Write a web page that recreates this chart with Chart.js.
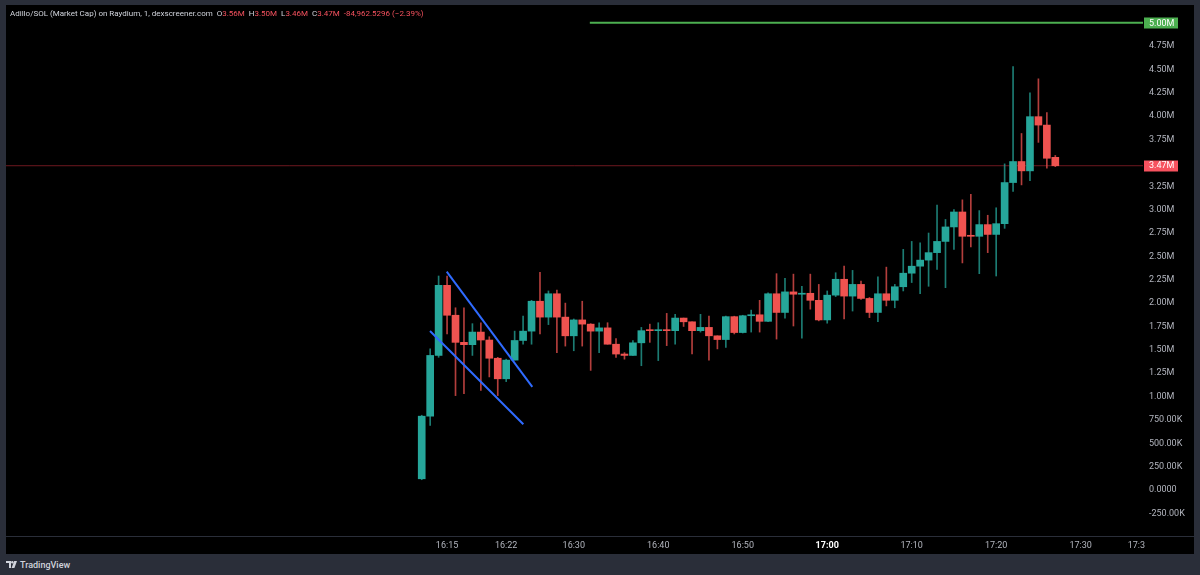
<!DOCTYPE html>
<html>
<head>
<meta charset="utf-8">
<script src="https://cdn.jsdelivr.net/npm/chart.js@4.4.1/dist/chart.umd.min.js"></script>
<style>
  html, body { margin: 0; padding: 0; width: 1200px; height: 575px; overflow: hidden; background: #2a2e39; font-family: Roboto, sans-serif; }
  #panel { position: absolute; left: 6px; top: 5px; width: 1188px; height: 549px; background: #000; }
  #header { position: absolute; left: 10px; top: 9px; font-size: 8px; line-height: 10px; color: #d1d4dc; white-space: pre; }
  #header .r { color: #f7525f; }
  #footer { position: absolute; left: 6px; top: 559px; height: 12px; display: flex; align-items: center; color: #d1d4dc; font-size: 9px; font-weight: 500; }
  #footer svg { margin-right: 3px; }
</style>
</head>
<body>
<div id="panel"><canvas id="chart" width="1188" height="549"></canvas></div>
<div id="header">Adillo/SOL (Market Cap) on Raydium, 1, dexscreener.com  O<span class="r">3.56M</span>  H<span class="r">3.50M</span>  L<span class="r">3.46M</span>  C<span class="r">3.47M</span>  <span class="r">-84,962.5296 (−2.39%)</span></div>
<div id="footer">
  <svg width="11" height="8" viewBox="0 0 11 8"><path d="M0 0h5v7H3V2H0z" fill="#d1d4dc"/><circle cx="6.3" cy="1.3" r="1.2" fill="#d1d4dc"/><path d="M8.2 0H11L8.4 7H5.6z" fill="#d1d4dc"/></svg>
  <span>TradingView</span>
</div>
<script>
// one-minute candles from 16:12 to 17:27, market cap in millions
const openM  = [0.12, 0.79, 1.44, 2.19, 1.87, 1.58, 1.555, 1.69, 1.605, 1.41, 1.19, 1.39, 1.60, 1.70, 2.02, 1.85, 2.10, 1.85, 1.65, 1.82,
                1.775, 1.70, 1.735, 1.56, 1.455, 1.44, 1.575, 1.715, 1.705, 1.715, 1.705, 1.84, 1.80, 1.705, 1.74, 1.65, 1.61, 1.855, 1.685, 1.865,
                1.875, 1.805, 2.10, 1.90, 2.12, 2.095, 2.105, 2.03, 1.82, 2.085, 2.255, 2.075, 2.20, 2.05, 1.90, 2.10, 2.03, 2.175, 2.32, 2.395,
                2.46, 2.54, 2.66, 2.815, 2.975, 2.725, 2.715, 2.84, 2.735, 2.85, 3.29, 3.515, 3.415, 3.995, 3.905, 3.56];
const highM  = [0.80, 1.51, 2.29, 2.29, 1.95, 1.95, 1.78, 1.79, 1.64, 1.42, 1.40, 1.70, 1.86, 2.03, 2.33, 2.13, 2.14, 2.00, 1.83, 2.02,
                1.78, 1.79, 1.79, 1.62, 1.47, 1.60, 1.74, 1.775, 1.79, 1.89, 1.88, 1.84, 1.80, 1.88, 1.86, 1.65, 1.86, 1.86, 1.87, 1.925,
                2.03, 2.11, 2.315, 2.265, 2.31, 2.18, 2.31, 2.20, 2.13, 2.325, 2.395, 2.35, 2.235, 2.06, 2.28, 2.385, 2.20, 2.575, 2.66, 2.645,
                2.75, 3.05, 2.895, 3.00, 3.105, 3.165, 2.99, 2.94, 3.02, 3.49, 4.53, 3.815, 4.25, 4.40, 4.04, 3.58];
const lowM   = [0.11, 0.69, 1.42, 1.67, 1.01, 1.03, 1.44, 1.065, 1.21, 1.01, 1.16, 1.39, 1.56, 1.56, 1.67, 1.77, 1.47, 1.54, 1.49, 1.54,
                1.28, 1.47, 1.56, 1.42, 1.40, 1.44, 1.33, 1.58, 1.385, 1.545, 1.56, 1.75, 1.455, 1.69, 1.39, 1.51, 1.525, 1.67, 1.68, 1.69,
                1.69, 1.80, 1.615, 1.84, 1.755, 1.625, 1.935, 1.81, 1.785, 2.07, 1.83, 1.915, 2.04, 1.845, 1.80, 1.97, 1.95, 2.13, 2.22, 2.10,
                2.18, 2.36, 2.165, 2.575, 2.43, 2.60, 2.315, 2.54, 2.29, 2.80, 3.195, 3.265, 3.31, 3.72, 3.445, 3.46];
const closeM = [0.79, 1.44, 2.19, 1.87, 1.58, 1.555, 1.69, 1.605, 1.41, 1.19, 1.39, 1.60, 1.70, 2.02, 1.85, 2.10, 1.85, 1.65, 1.82, 1.775,
                1.70, 1.735, 1.56, 1.455, 1.44, 1.575, 1.705, 1.705, 1.715, 1.705, 1.84, 1.80, 1.705, 1.74, 1.65, 1.61, 1.855, 1.685, 1.865, 1.875,
                1.805, 2.10, 1.90, 2.12, 2.095, 2.10, 2.03, 1.82, 2.085, 2.255, 2.075, 2.20, 2.05, 1.90, 2.10, 2.03, 2.175, 2.32, 2.395, 2.46,
                2.54, 2.66, 2.815, 2.975, 2.715, 2.715, 2.84, 2.735, 2.85, 3.29, 3.515, 3.415, 3.995, 3.905, 3.55, 3.47];

// axis ticks (3.50M is hidden behind the last-price tag)
const priceTicks = [-0.25, 0, 0.25, 0.5, 0.75, 1, 1.25, 1.5, 1.75, 2, 2.25, 2.5, 2.75, 3, 3.25, 3.75, 4, 4.25, 4.5, 4.75, 5];
const timeTickIdx = [3, 10, 18, 28, 38, 48, 58, 68, 78, 84.6];
const timeTickLabels = ['16:15', '16:22', '16:30', '16:40', '16:50', '17:00', '17:10', '17:20', '17:30', '17:3'];

// drawings: two trend lines (bar index, value in M), target line and last price
const upperTrend = [[2.96, 2.336], [13.09, 1.103]];
const lowerTrend = [[0.98, 1.701], [12.03, 0.704]];
const targetLevel = 5.0;
const targetStartIdx = 19.9;
const lastPrice = 3.47;

const UP = '#26a69a';
const DOWN = '#ef5350';
const UP_WICK = 'rgba(38, 166, 154, 0.75)';
const DOWN_WICK = 'rgba(239, 83, 80, 0.75)';
const isUp = (i) => closeM[i] >= openM[i];

function fmtPrice(v) {
  if (Math.abs(v) < 1e-9) return '0.0000';
  if (Math.abs(v) >= 1) return v.toFixed(2) + 'M';
  return (v * 1000).toFixed(2) + 'K';
}

const tagPlugin = {
  id: 'tags',
  afterDraw(chart) {
    const { ctx, chartArea, scales } = chart;
    ctx.save();
    // separator above the time axis
    ctx.strokeStyle = '#2a2e39';
    ctx.lineWidth = 1;
    ctx.beginPath();
    ctx.moveTo(0, Math.round(chartArea.bottom) + 0.5);
    ctx.lineTo(chart.width, Math.round(chartArea.bottom) + 0.5);
    ctx.stroke();
    // price tags on the axis
    [[targetLevel, '#4caf50'], [lastPrice, '#f7525f']].forEach(([v, col]) => {
      const y = scales.y.getPixelForValue(v);
      ctx.fillStyle = col;
      ctx.fillRect(chartArea.right + 1, Math.round(y) - 5.5, 34, 11);
      ctx.fillStyle = '#ffffff';
      ctx.font = '9px Roboto';
      ctx.textBaseline = 'middle';
      ctx.textAlign = 'left';
      ctx.fillText(fmtPrice(v), chartArea.right + 6, y + 0.5);
    });
    ctx.restore();
  }
};

const idx = openM.map((_, i) => i);

new Chart(document.getElementById('chart'), {
  type: 'bar',
  data: {
    datasets: [
      {
        type: 'line',
        data: [{ x: -60, y: lastPrice }, { x: 100, y: lastPrice }],
        borderColor: 'rgba(242, 54, 69, 0.45)',
        borderWidth: 1,
        pointRadius: 0,
        order: 5
      },
      {
        data: idx.map(i => ({ x: i, y: [lowM[i], highM[i]] })),
        backgroundColor: idx.map(i => isUp(i) ? UP_WICK : DOWN_WICK),
        barThickness: 1,
        grouped: false,
        order: 4
      },
      {
        data: idx.map(i => ({ x: i, y: [openM[i], closeM[i]] })),
        backgroundColor: idx.map(i => isUp(i) ? UP : DOWN),
        barThickness: 7,
        minBarLength: 1,
        grouped: false,
        order: 3
      },
      {
        type: 'line',
        data: [{ x: targetStartIdx, y: targetLevel }, { x: 100, y: targetLevel }],
        borderColor: '#4caf50',
        borderWidth: 2,
        pointRadius: 0,
        order: 2
      },
      {
        type: 'line',
        data: upperTrend.map(p => ({ x: p[0], y: p[1] })),
        borderColor: '#2f6bff',
        borderWidth: 2,
        pointRadius: 0,
        order: 1
      },
      {
        type: 'line',
        data: lowerTrend.map(p => ({ x: p[0], y: p[1] })),
        borderColor: '#2f6bff',
        borderWidth: 2,
        pointRadius: 0,
        order: 1
      }
    ]
  },
  options: {
    responsive: false,
    animation: false,
    layout: { padding: 0 },
    plugins: { legend: { display: false }, tooltip: { enabled: false } },
    scales: {
      x: {
        type: 'linear',
        min: -49.21,
        max: 85.38,
        offset: false,
        grid: { display: false, drawTicks: false },
        border: { display: false },
        afterBuildTicks: (scale) => { scale.ticks = timeTickIdx.map(v => ({ value: v })); },
        afterFit: (scale) => {
          scale.height = 18;
          scale.paddingLeft = 0;
          scale.paddingRight = 0;
        },
        ticks: {
          autoSkip: false,
          maxRotation: 0,
          padding: 4,
          color: (c) => timeTickIdx[c.index] === 48 ? '#ffffff' : '#b2b5be',
          font: (c) => ({ family: 'Roboto', size: 9, weight: timeTickIdx[c.index] === 48 ? 'bold' : 'normal' }),
          callback: (value, i) => timeTickLabels[i]
        }
      },
      y: {
        position: 'right',
        min: -0.4922,
        max: 5.190,
        grid: { display: false, drawTicks: false },
        border: { display: false },
        afterBuildTicks: (scale) => { scale.ticks = priceTicks.map(v => ({ value: v })); },
        afterFit: (scale) => {
          scale.width = 51;
          scale.paddingTop = 0;
          scale.paddingBottom = 0;
        },
        ticks: {
          autoSkip: false,
          crossAlign: 'near',
          padding: 6,
          color: '#b2b5be',
          font: { family: 'Roboto', size: 9 },
          callback: (value) => fmtPrice(value)
        }
      }
    }
  },
  plugins: [tagPlugin]
});
</script>
</body>
</html>
